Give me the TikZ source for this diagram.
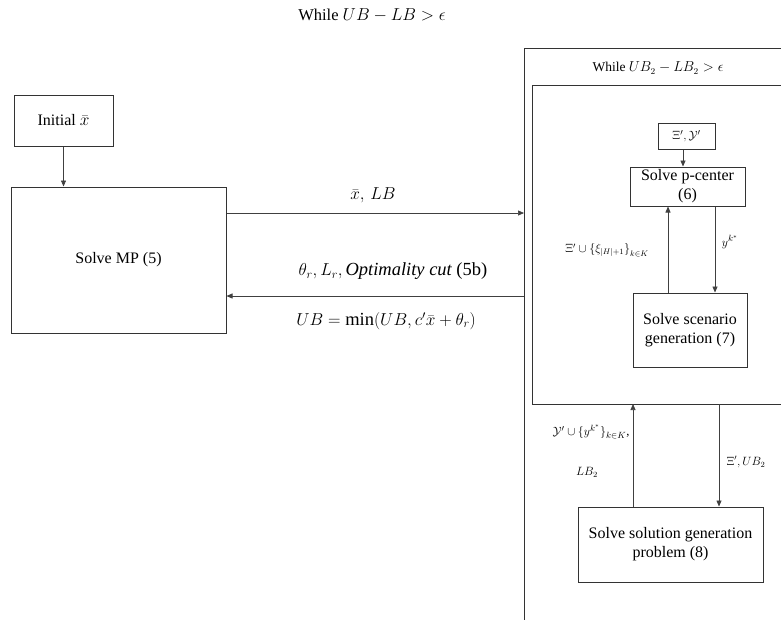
\documentclass[tikz,border=0pt]{standalone}
\usepackage{fontspec}
\setmainfont{Liberation Serif}
\newfontfamily\tnr{Liberation Serif}
\usetikzlibrary{arrows.meta}
\begin{document}
\begin{tikzpicture}[x=1pt,y=-1pt,
  box/.style={draw=black!80,line width=1pt,inner sep=2pt,align=center,font=\tnr\fontsize{16}{19}\selectfont},
  arr/.style={draw=black!75,line width=0.7pt,-{Triangle[length=6pt,width=5pt]}},
  lbl/.style={font=\tnr\fontsize{11.5}{13}\selectfont,inner sep=1pt},
  big/.style={font=\tnr\fontsize{18.5}{22}\selectfont,inner sep=1pt}]
\clip (0,0) rectangle (781,619);
\fill[white] (0,0) rectangle (781,619);
% outer and inner loop boxes (extend past the picture edge)
\draw[black!80,line width=1pt] (800,48) -- (524,48) -- (524,640);
\draw[black!80,line width=1pt] (800,85) -- (532,85) -- (532,404) -- (800,404);
\coordinate (outerL) at (524,250);
\coordinate (innerB) at (676,404);
% nodes
\node[box,minimum width=99pt,minimum height=51pt] (init) at (63.5,120.5) {Initial $\bar{x}$};
\node[box,minimum width=215pt,minimum height=146pt] (mp) at (118.5,260) {Solve MP (5)};
\node[box,minimum width=57pt,minimum height=26pt,font=\tnr\fontsize{13}{15}\selectfont] (xi) at (686.5,136) {$\Xi',\mathcal{Y}'$};
\node[box,minimum width=115pt,minimum height=39pt] (pc) at (687.5,186.5) {Solve p-center\\(6)};
\node[box,minimum width=114pt,minimum height=74pt] (sc) at (690,330) {Solve scenario\\generation (7)};
\node[box,minimum width=185pt,minimum height=75pt] (sol) at (670.5,544.5) {Solve solution generation\\problem (8)};
% titles
\node[font=\tnr\fontsize{16.5}{19}\selectfont] (t1) at (372,15) {While $UB-LB>\epsilon$};
\node[font=\tnr\fontsize{13.5}{16}\selectfont] (t2) at (658,68) {While $UB_2-LB_2>\epsilon$};
% connectors
\draw[arr] (init.south) -- (init.south |- mp.north);
\draw[arr] (mp.east |- 0,213) -- (outerL |- 0,213);
\draw[arr] (outerL |- 0,296) -- (mp.east |- 0,296);
\draw[arr] (xi.south -| 683,0) -- (pc.north -| 683,0);
\draw[arr] (sc.north -| 668,0) -- (pc.south -| 668,0);
\draw[arr] (pc.south -| 715,0) -- (sc.north -| 715,0);
\draw[arr] (sol.north -| 633,0) -- (innerB -| 633,0);
\draw[arr] (innerB -| 719,0) -- (sol.north -| 719,0);
% labels
\node[big] (l1) at (373,195) {$\bar{x},\,LB$};
\node[big] (l2) at (393,271) {$\theta_r, L_r, \mathit{Optimality\ cut}$ (5b)};
\node[big] (l3) at (386,321) {$UB=\min(UB, c'\bar{x}+\theta_r)$};
\node[lbl] (l4) at (607,250) {$\Xi'\cup\bigl\{\xi_{|H|+1}\bigr\}_{k\in K}$};
\node[lbl,font=\tnr\fontsize{13}{15}\selectfont] (l5) at (730,242) {$y^{k^*}$};
\node[lbl,font=\tnr\fontsize{12.5}{15}\selectfont] (l6) at (591,432) {$\mathcal{Y}'\cup\{y^{k^*}\}_{k\in K}$,};
\node[lbl] (l7) at (587,472) {$LB_2$};
\node[lbl] (l8) at (746,462) {$\Xi', UB_2$};
\end{tikzpicture}
\end{document}
